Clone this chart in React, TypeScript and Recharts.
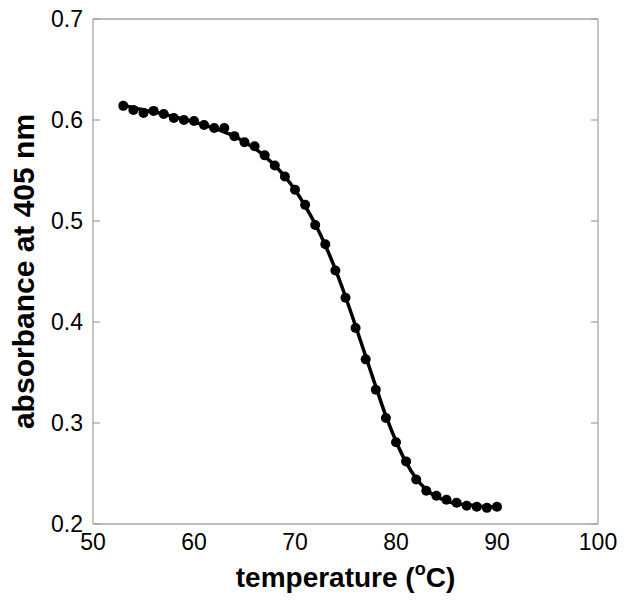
import React from 'react';
import { ComposedChart, Line, Scatter, XAxis, YAxis, Label } from 'recharts';

const temps = [53, 54, 55, 56, 57, 58, 59, 60, 61, 62, 63, 64, 65, 66, 67, 68, 69, 70, 71, 72, 73, 74, 75, 76, 77, 78, 79, 80, 81, 82, 83, 84, 85, 86, 87, 88, 89, 90];
const absorbance = [0.614, 0.610, 0.607, 0.609, 0.606, 0.602, 0.600, 0.599, 0.595, 0.592, 0.592, 0.584, 0.578, 0.574, 0.565, 0.555, 0.544, 0.531, 0.516, 0.496, 0.477, 0.451, 0.424, 0.394, 0.363, 0.333, 0.305, 0.281, 0.262, 0.244, 0.233, 0.228, 0.224, 0.221, 0.218, 0.217, 0.216, 0.217];
const fitValues = [0.615, 0.612, 0.610, 0.608, 0.606, 0.603, 0.601, 0.598, 0.595, 0.592, 0.588, 0.584, 0.578, 0.572, 0.564, 0.555, 0.544, 0.531, 0.515, 0.497, 0.476, 0.452, 0.425, 0.396, 0.366, 0.336, 0.307, 0.282, 0.261, 0.245, 0.234, 0.227, 0.223, 0.220, 0.219, 0.218, 0.217, 0.217];
const xTicks = [50, 60, 70, 80, 90, 100];
const yTicks = [0.2, 0.3, 0.4, 0.5, 0.6, 0.7];

const points = temps.map((t, i) => ({ t, a: absorbance[i] }));
const fit = temps.map((t, i) => ({ t, a: fitValues[i] }));

const FONT = '"Liberation Sans", Arial, Helvetica, sans-serif';
const FRAME = '#a6a6a6';

const XTitle = (props: any) => {
  const { x, y, width } = props.viewBox;
  return (
    <text x={x + width / 2} y={y + 63} textAnchor="middle" fontFamily={FONT} fontWeight="bold" fontSize={28} fill="#000">
      <tspan>temperature (</tspan>
      <tspan dy={-12} fontSize={18}>o</tspan>
      <tspan dy={12}>C)</tspan>
    </text>
  );
};

const YTitle = (props: any) => {
  const { y, height } = props.viewBox;
  const cx = 26;
  const cy = y + height / 2;
  return (
    <text x={cx} y={cy} transform={`rotate(-90, ${cx}, ${cy})`} textAnchor="middle" fontFamily={FONT} fontWeight="bold" fontSize={30} fill="#000">
      absorbance at 405 nm
    </text>
  );
};

const tickStyle = { fontFamily: FONT, fontSize: 23, fill: '#000' };
const blank = () => '';
const tl = { stroke: FRAME, strokeWidth: 1.3 };

export default function App() {
  return (
    <ComposedChart width={620} height={599} margin={{ top: 11, right: 30, left: 0, bottom: 0 }}>
      <XAxis xAxisId="b" type="number" dataKey="t" domain={[50, 100]} ticks={xTicks} allowDataOverflow
        orientation="bottom" height={83} tickLine={false} tickSize={0} tickMargin={10}
        axisLine={tl} tick={tickStyle} interval={0}>
        <Label content={XTitle} />
      </XAxis>
      <XAxis xAxisId="bm" type="number" domain={[50, 100]} ticks={xTicks} allowDataOverflow
        orientation="bottom" mirror tickFormatter={blank} tickSize={7} tickLine={tl} axisLine={false} interval={0} />
      <XAxis xAxisId="tm" type="number" domain={[50, 100]} ticks={xTicks} allowDataOverflow
        orientation="top" mirror tickFormatter={blank} tickSize={7} tickLine={tl} axisLine={tl} interval={0} />
      <YAxis yAxisId="l" type="number" domain={[0.2, 0.7]} ticks={yTicks} allowDataOverflow
        orientation="left" width={85} tickLine={false} tickSize={0} tickMargin={10}
        axisLine={tl} tick={tickStyle} interval={0}
        tickFormatter={(v: number) => v.toFixed(1)}>
        <Label content={YTitle} />
      </YAxis>
      <YAxis yAxisId="lm" type="number" domain={[0.2, 0.7]} ticks={yTicks} allowDataOverflow
        orientation="left" mirror tickFormatter={blank} tickSize={7} tickLine={tl} axisLine={false} interval={0} />
      <YAxis yAxisId="rm" type="number" domain={[0.2, 0.7]} ticks={yTicks} allowDataOverflow
        orientation="right" mirror tickFormatter={blank} tickSize={7} tickLine={tl} axisLine={tl} interval={0} />
      <Line xAxisId="b" yAxisId="l" data={fit} dataKey="a" type="monotone" stroke="#000" strokeWidth={3.5}
        dot={false} activeDot={false} isAnimationActive={false} />
      <Scatter xAxisId="b" yAxisId="l" data={points} dataKey="a" fill="#000" isAnimationActive={false}
        shape={(p: any) => <circle cx={p.cx} cy={p.cy} r={5} fill="#000" />} />
    </ComposedChart>
  );
}
